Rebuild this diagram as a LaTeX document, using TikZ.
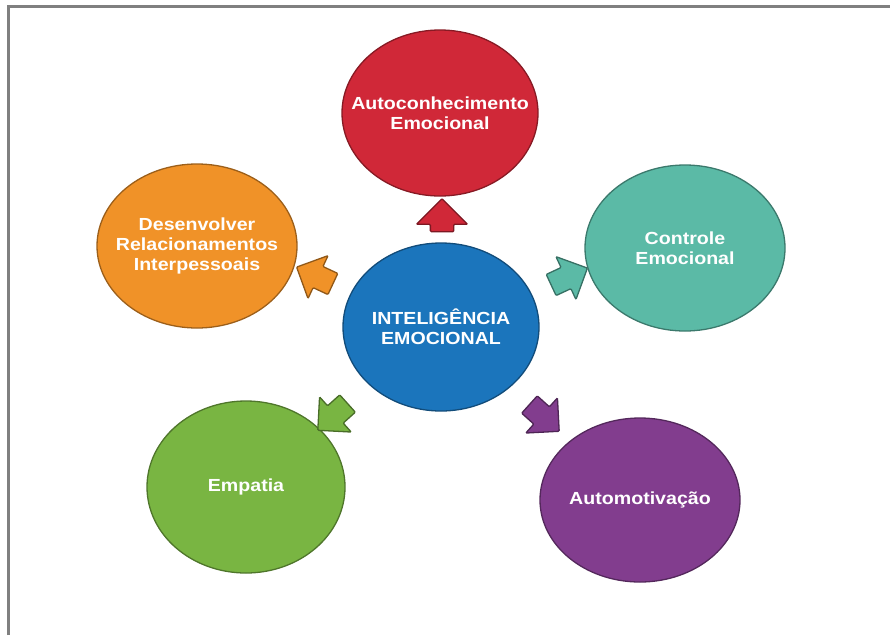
\documentclass[tikz,border=0pt]{standalone}
\usepackage{fontspec}
\newfontfamily\lab[FakeStretch=1.12]{Liberation Sans Bold}
\usetikzlibrary{shapes.geometric,shapes.arrows}
\definecolor{cred}{RGB}{208,40,56}
\definecolor{corange}{RGB}{240,146,40}
\definecolor{cteal}{RGB}{91,186,166}
\definecolor{cblue}{RGB}{27,117,188}
\definecolor{cgreen}{RGB}{121,181,66}
\definecolor{cpurple}{RGB}{130,61,142}
\definecolor{cframe}{RGB}{128,128,128}
\tikzset{
  blob/.style={ellipse, draw=#1!65!black, fill=#1, line width=1.3pt, inner sep=0pt},
  lbl/.style={text=white, align=center, font=\lab\fontsize{17.5}{20}\selectfont, inner sep=0pt},
  blockarrow/.style={single arrow, draw=#1!60!black, fill=#1, line width=1.3pt,
    minimum height=40pt, minimum width=46pt, single arrow head extend=12pt,
    text height=11pt, text depth=11pt, text width=0pt,
    inner sep=0pt, rounded corners=1pt},
}
\begin{document}
\begin{tikzpicture}[x=1pt,y=-1pt]
\useasboundingbox (0,0) rectangle (890,635);
% frame
\draw[cframe, line width=3pt] (8,635) -- (8,6) -- (890,6);
% ellipses
\node[blob=cred, minimum width=196pt, minimum height=166pt] (auto) at (440,113) {};
\node[blob=corange, minimum width=200pt, minimum height=164pt] (rel) at (197,246) {};
\node[blob=cteal, minimum width=200pt, minimum height=166pt] (ctrl) at (685,248) {};
\node[blob=cblue, minimum width=196pt, minimum height=168pt] (ie) at (441,327) {};
\node[blob=cgreen, minimum width=198pt, minimum height=172pt] (emp) at (246,487) {};
\node[blob=cpurple, minimum width=200pt, minimum height=164pt] (mot) at (640,500) {};
% labels
\node[lbl] (tauto) at (auto) {Autoconhecimento\\Emocional};
\node[lbl] (trel) at (rel) {Desenvolver\\Relacionamentos\\Interpessoais};
\node[lbl] (tctrl) at (ctrl) {Controle\\Emocional};
\node[lbl] (tie) at (ie) {INTELIGÊNCIA\\EMOCIONAL};
\node[lbl] (temp) at (emp) {Empatia};
\node[lbl] (tmot) at (mot) {Automotivação};
% block arrows
\node[blockarrow=cred, rotate=90, minimum height=33pt, minimum width=50pt, single arrow head extend=14pt] (a1) at (442,221) {};
\node[blockarrow=corange, rotate=155] (a2) at (320,278) {};
\node[blockarrow=cteal, rotate=25] (a3) at (564,279) {};
\node[blockarrow=cgreen, rotate=222] (a4) at (337,413) {};
\node[blockarrow=cpurple, rotate=-42] (a5) at (540,414) {};
\end{tikzpicture}
\end{document}
